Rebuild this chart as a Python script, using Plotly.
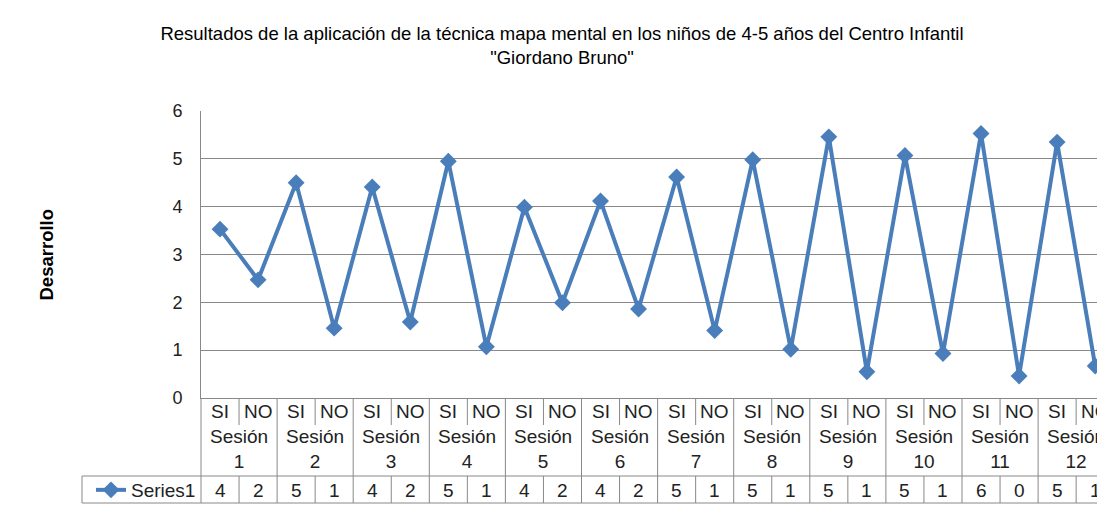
import plotly.graph_objects as go

# ---- data ----
categories = ["SI", "NO"] * 12
sessions = [f"Sesión<br>{i}" for i in range(1, 13)]
values = [3.53, 2.47, 4.50, 1.46, 4.41, 1.59, 4.95, 1.07, 3.99, 1.99, 4.12, 1.86,
          4.62, 1.41, 4.98, 1.02, 5.46, 0.55, 5.07, 0.93, 5.53, 0.46, 5.35, 0.67]
table_values = [4, 2, 5, 1, 4, 2, 5, 1, 4, 2, 4, 2, 5, 1, 5, 1, 5, 1, 5, 1, 6, 0, 5, 1]
series_name = "Series1"
y_ticks = [0, 1, 2, 3, 4, 5, 6]

# ---- layout geometry (page pixels; the page body has an 8px margin) ----
OFF = 8
W, H = 1105 - OFF, 532 - OFF
PLOT_L, PLOT_T, PLOT_B = 201, 111, 398   # in page pixels
ML, MR, MT = PLOT_L - OFF, 0, PLOT_T - OFF
MB = H - (PLOT_B - OFF)
PW = W - ML - MR
PH = H - MT - MB
CAT_W = 38.05

def yp(py):  # page pixel y -> paper
    return (PLOT_B - py) / PH

def xp(px):  # page pixel x -> paper
    return (px - PLOT_L) / PW

LINE_COLOR = "#4a7ebb"
GRID = "#888888"
FONT = "Liberation Sans, Arial, sans-serif"

x_idx = list(range(len(categories)))

fig = go.Figure()
fig.add_trace(go.Scatter(
    x=x_idx, y=values, mode="lines+markers", name=series_name,
    line=dict(color=LINE_COLOR, width=4),
    marker=dict(symbol="diamond", size=13, color=LINE_COLOR),
    showlegend=True, cliponaxis=False,
))

shapes = []
annotations = []
table_line = dict(color=GRID, width=1)

# session dividers
for k in range(1, 13):
    shapes.append(dict(type="line", xref="x", yref="paper", x0=2 * k - 0.5, x1=2 * k - 0.5,
                       y0=yp(398), y1=yp(503), line=table_line))
# SI/NO dividers
for k in range(12):
    shapes.append(dict(type="line", xref="x", yref="paper", x0=2 * k + 0.5, x1=2 * k + 0.5,
                       y0=yp(399), y1=yp(425), line=table_line))
    shapes.append(dict(type="line", xref="x", yref="paper", x0=2 * k + 0.5, x1=2 * k + 0.5,
                       y0=yp(476), y1=yp(503), line=table_line))
# left edges of table
shapes.append(dict(type="line", xref="paper", yref="paper", x0=0, x1=0,
                   y0=yp(398), y1=yp(503), line=table_line))
shapes.append(dict(type="line", xref="paper", yref="paper", x0=xp(82), x1=xp(82),
                   y0=yp(476), y1=yp(503), line=table_line))
# horizontal lines of series row
for py in (476, 503):
    shapes.append(dict(type="line", xref="paper", yref="paper", x0=xp(82), x1=1.0,
                       y0=yp(py), y1=yp(py), line=table_line))

tfont = dict(family=FONT, size=19, color="#222222")
for i, c in enumerate(categories):
    annotations.append(dict(text=c, xref="x", yref="paper", x=i, y=yp(411),
                            showarrow=False, font=tfont, xanchor="center", yanchor="middle"))
    annotations.append(dict(text=str(table_values[i]), xref="x", yref="paper", x=i, y=yp(490),
                            showarrow=False, font=tfont, xanchor="center", yanchor="middle"))
for k, s in enumerate(sessions):
    annotations.append(dict(text=s, xref="x", yref="paper", x=2 * k + 0.5, y=yp(449),
                            showarrow=False, font=tfont, xanchor="center", yanchor="middle"))

# y axis title
annotations.append(dict(text="<b>Desarrollo</b>", xref="paper", yref="paper", x=xp(46), y=0.5,
                        textangle=-90, showarrow=False,
                        font=dict(family=FONT, size=18.5, color="#000000"),
                        xanchor="center", yanchor="middle"))

fig.update_layout(
    width=W, height=H,
    margin=dict(l=ML, r=MR, t=MT, b=MB, pad=0),
    paper_bgcolor="white", plot_bgcolor="white",
    font=dict(family=FONT, size=18, color="#222222"),
    title=dict(
        text="Resultados de la aplicación de la técnica mapa mental en los niños de 4-5 años del Centro Infantil<br>\"Giordano Bruno\"",
        x=(562 - OFF) / W, xref="container", xanchor="center",
        y=1 - 32 / H, yref="container", yanchor="middle",
        font=dict(family=FONT, size=18.5, color="#000000"),
    ),
    xaxis=dict(range=[-0.5, -0.5 + PW / CAT_W], showgrid=False, zeroline=False,
               showticklabels=False, ticks="", showline=True, linecolor=GRID, linewidth=1,
               fixedrange=True),
    yaxis=dict(range=[0, 6], tickvals=y_ticks, showgrid=True, gridcolor=GRID, gridwidth=1,
               zeroline=False, showline=True, linecolor=GRID, linewidth=1, ticks="",
               ticklabelstandoff=14, tickfont=dict(family=FONT, size=18, color="#222222"),
               fixedrange=True),
    legend=dict(x=xp(91), xanchor="left", y=yp(490), yanchor="middle",
                font=dict(family=FONT, size=19, color="#222222"),
                bgcolor="rgba(0,0,0,0)", borderwidth=0),
    shapes=shapes,
    annotations=annotations,
)

fig.write_html("out.html")
